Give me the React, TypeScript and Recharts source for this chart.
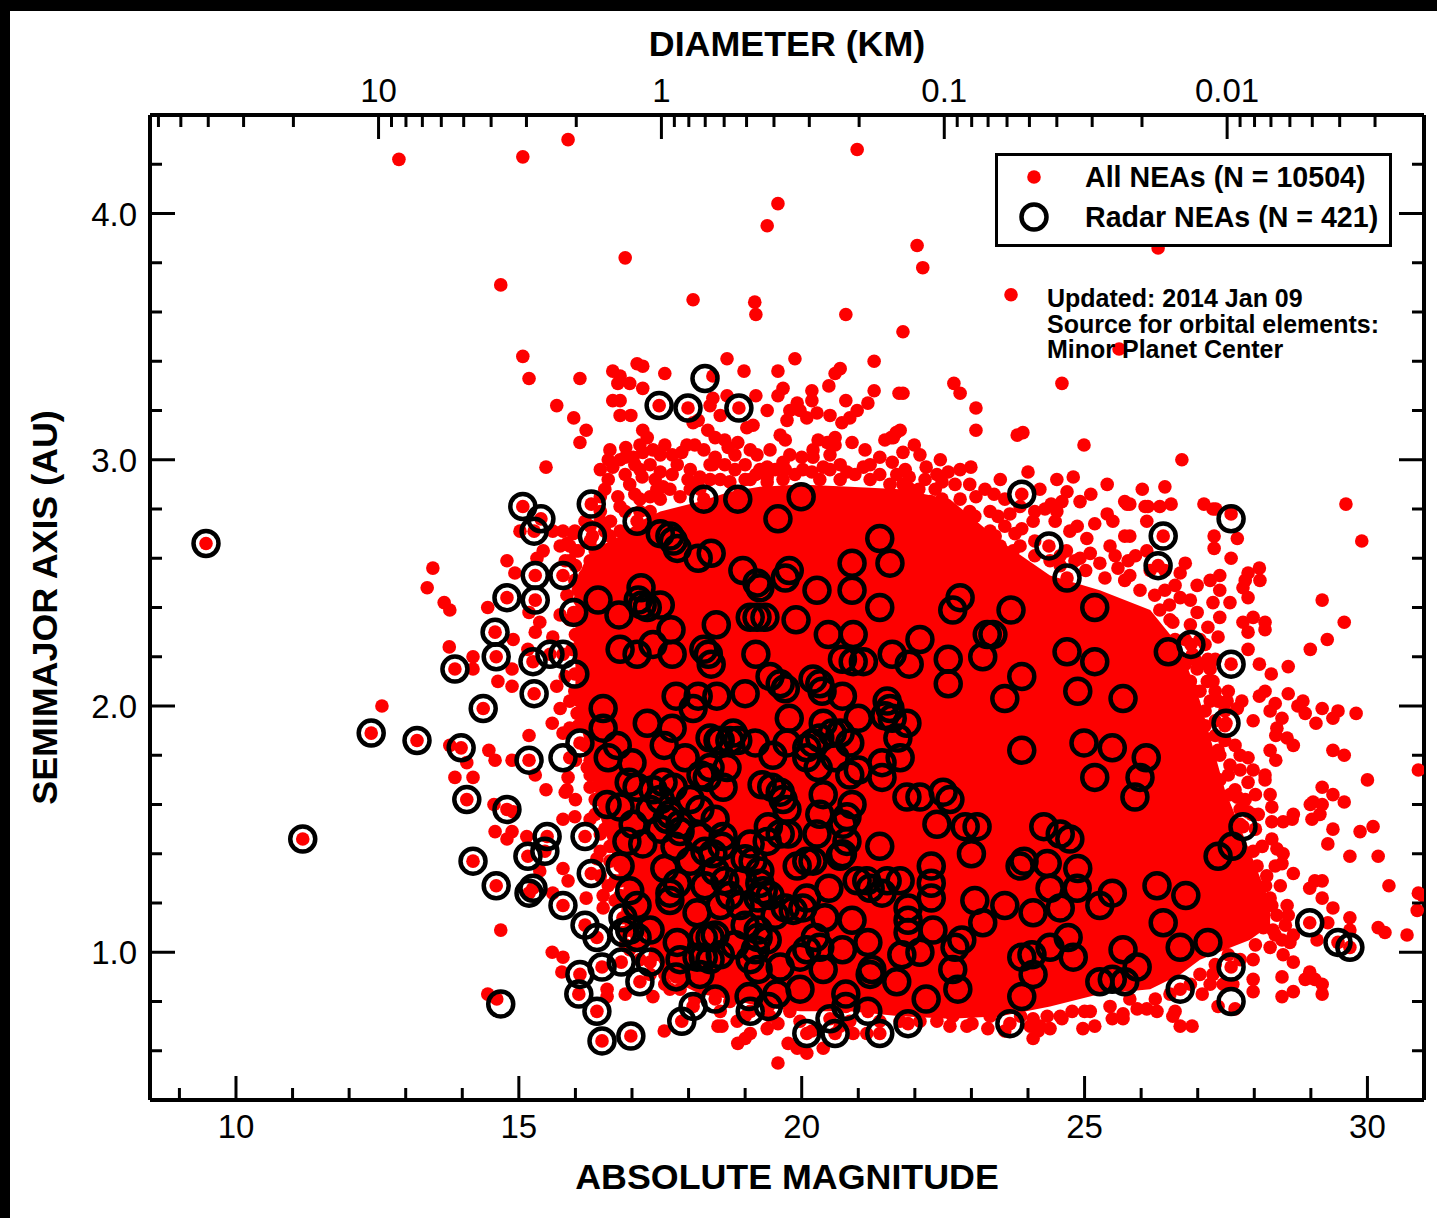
import {
  ComposedChart,
  Area,
  Scatter,
  XAxis,
  YAxis,
  Legend,
} from "recharts";

type Pt = [number, number];

// [absolute magnitude, semimajor axis]
const radarOnDots: Pt[] = [
  [9.47,2.66],[11.18,1.46],[12.39,1.89],[13.2,1.86],[13.98,1.83],[13.87,2.15],[14.37,1.99],[14.08,1.62],[14.19,1.37],[14.6,1.27],
  [14.6,2.2],[14.58,2.3],[14.79,1.58],[14.79,2.44],[15.07,2.81],[15.39,2.76],[15.27,2.71],[15.29,2.53],[15.29,2.43],[15.27,2.05],
  [15.25,2.18],[15.18,1.78],[15.78,2.53],[15.97,2.38],[15.55,2.21],[15.78,2.21],[15.99,2.13],[16.08,1.85],[16.28,2.82],[16.3,2.69],
  [16.4,2.43],[16.49,1.99],[16.49,1.91],[16.74,1.84],[16.58,1.79],[17.0,1.77],[15.5,1.47],[15.46,1.41],[15.16,1.39],[16.17,1.47],
  [16.28,1.32],[16.79,1.35],[15.25,1.26],[15.18,1.24],[15.78,1.19],[16.17,1.11],[16.38,1.06],[16.47,0.94],[16.08,0.91],[16.06,0.83],
  [16.38,0.76],[16.47,0.64],[16.98,0.66],[16.81,0.96],[17.32,0.96],[17.14,0.88],[17.78,0.9],[18.08,0.78],[17.88,0.72],[18.47,0.81],
  [16.96,1.25],[17.09,1.19],[16.84,1.14],[16.56,1.6],[16.79,1.59],[17.02,1.52],[16.91,1.45],[17.19,1.44],[17.58,1.34],[17.67,1.24],
  [17.8,1.28],[18.15,1.16],[16.96,1.09],[16.84,1.08],[17.09,1.06],[17.8,1.04],[18.26,1.06],[18.26,0.98],[18.15,0.98],[17.62,1.54],
  [17.85,1.52],[17.09,2.75],[17.5,2.7],[17.67,2.69],[17.73,2.67],[17.8,2.64],[18.17,2.6],[18.4,2.62],[18.27,2.84],[18.87,2.84],
  [19.99,2.85],[19.58,2.76],[21.38,2.68],[20.89,2.58],[21.56,2.58],[18.96,2.55],[19.21,2.5],[19.26,2.48],[19.78,2.55],[19.71,2.52],
  [20.27,2.47],[20.89,2.47],[21.38,2.4],[17.16,2.48],[17.11,2.43],[17.18,2.41],[17.27,2.4],[17.5,2.41],[16.77,2.37],[17.69,2.31],
  [18.49,2.33],[19.9,2.35],[19.09,2.36],[19.21,2.36],[19.35,2.36],[20.47,2.29],[20.91,2.29],[22.67,2.39],[22.8,2.44],[23.7,2.39],
  [25.18,2.4],[24.37,2.65],[24.69,2.52],[26.3,2.57],[26.39,2.69],[23.89,2.86],[23.28,2.29],[23.38,2.29],[23.2,2.2],[24.69,2.22],
  [25.18,2.18],[26.48,2.22],[26.88,2.25],[27.59,2.17],[23.89,2.12],[23.59,2.03],[24.88,2.06],[25.68,2.03],[27.5,1.93],[23.89,1.82],
  [24.99,1.85],[25.49,1.83],[25.18,1.71],[26.09,1.79],[25.98,1.71],[25.89,1.63],[19.19,2.21],[22.09,2.27],[21.6,2.21],[21.9,2.17],
  [22.59,2.19],[22.59,2.09],[18.35,2.21],[18.4,2.17],[20.72,2.19],[20.91,2.18],[21.09,2.18],[19.44,2.12],[19.62,2.09],[19.71,2.07],
  [20.2,2.11],[20.32,2.09],[20.36,2.06],[20.72,2.04],[21.51,2.02],[21.56,1.99],[21.47,1.96],[21.6,1.95],[21.86,1.93],[18.5,2.04],
  [19.0,2.05],[17.78,2.04],[18.08,1.99],[18.17,2.04],[17.27,1.93],[17.71,1.91],[17.94,1.79],[17.57,1.84],[18.38,1.87],[18.52,1.86],
  [17.71,2.21],[17.37,2.25],[17.09,2.21],[16.79,2.23],[18.27,2.23],[19.78,1.95],[20.38,1.93],[21.0,1.95],[18.56,1.86],[18.73,1.86],
  [18.87,1.86],[18.79,1.89],[19.18,1.85],[19.49,1.8],[19.74,1.85],[20.09,1.83],[20.2,1.85],[20.32,1.87],[20.09,1.79],[20.54,1.89],
  [20.68,1.89],[20.85,1.85],[20.29,1.75],[20.59,1.79],[20.85,1.72],[21.0,1.74],[21.74,1.79],[21.42,1.77],[21.42,1.71],[21.7,1.87],
  [18.68,1.75],[18.61,1.67],[18.38,1.75],[18.33,1.71],[18.22,1.72],[17.55,1.69],[17.73,1.67],[17.09,1.67],[17.37,1.66],[16.95,1.69],
  [19.3,1.68],[19.47,1.67],[19.62,1.65],[19.67,1.62],[19.74,1.58],[20.38,1.64],[20.89,1.6],[20.8,1.55],[20.32,1.56],[20.27,1.48],
  [21.86,1.63],[22.09,1.63],[22.5,1.65],[22.62,1.62],[22.39,1.52],[22.89,1.51],[23.1,1.51],[23.0,1.4],[21.38,1.43],[20.73,1.52],
  [20.8,1.45],[20.72,1.4],[19.41,1.51],[19.39,1.45],[19.62,1.48],[19.76,1.48],[18.61,1.47],[18.59,1.43],[18.43,1.4],[19.09,1.44],
  [19.14,1.37],[20.09,1.37],[20.2,1.37],[19.92,1.35],[20.48,1.26],[20.98,1.29],[21.15,1.29],[21.51,1.29],[21.74,1.29],[22.29,1.35],
  [22.29,1.28],[22.29,1.22],[23.06,1.21],[23.59,1.19],[23.2,1.12],[24.09,1.16],[23.93,1.37],[23.86,1.35],[24.34,1.36],[24.39,1.26],
  [23.89,0.98],[24.07,0.99],[24.09,0.91],[24.39,1.02],[23.89,0.82],[23.68,0.71],[22.76,0.85],[22.67,0.93],[22.71,1.02],[22.83,1.05],
  [22.32,1.09],[21.88,1.18],[21.88,1.13],[21.88,1.08],[21.42,1.24],[21.21,1.26],[20.89,1.13],[21.17,1.04],[20.68,1.39],[20.09,1.22],
  [19.85,1.17],[20.02,1.18],[20.41,1.14],[19.71,1.18],[20.72,1.01],[20.38,0.93],[20.24,1.06],[20.32,1.02],[19.97,0.98],[19.97,0.85],
  [21.77,0.99],[22.09,1.0],[21.68,0.88],[21.24,0.93],[21.21,0.91],[22.2,0.81],[21.88,0.71],[21.38,0.67],[21.17,0.76],[20.78,0.83],
  [20.78,0.78],[20.5,0.73],[20.59,0.67],[20.09,0.67],[19.41,0.78],[19.09,0.76],[19.07,0.82],[19.56,0.83],[19.23,0.93],[19.62,0.94],
  [18.73,1.23],[19.23,1.06],[19.23,1.09],[19.39,1.05],[18.38,1.06],[18.38,0.97],[19.23,1.22],[19.32,1.25],[19.26,1.28],[18.96,1.29],
  [20.09,1.01],[27.8,1.51],[27.61,1.43],[27.36,1.39],[24.28,1.51],[24.57,1.48],[24.74,1.46],[24.88,1.34],[24.87,1.26],[25.49,1.24],
  [25.27,1.19],[24.57,1.18],[26.28,1.27],[26.79,1.23],[26.39,1.12],[27.18,1.04],[26.69,1.02],[27.59,0.94],[26.69,0.85],[28.98,1.12],
  [29.48,1.04],[29.69,1.02],[25.68,1.01],[25.93,0.94],[25.27,0.88],[25.49,0.89],[25.71,0.88],[24.71,1.06],[24.8,0.98],
  [17.5,1.62],[17.67,1.56],[17.85,1.49],[18.2,1.47],[18.29,1.41],[18.03,1.37],[17.5,1.5],[17.32,1.58],[17.76,1.43],[18.03,1.62],
  [18.2,1.58],[18.47,1.54],[18.47,1.33],[18.64,1.29],[18.56,1.19],[18.29,1.27],[18.91,1.19],[19.0,1.11],[18.82,1.03],[18.47,1.07],
  [18.56,0.99],[18.2,0.91],[19.09,0.97],[19.18,1.01],[19.53,1.15],[19.26,1.33],[19.0,1.38],[19.44,1.23],[17.67,1.21],[17.32,1.09],
  [17.85,0.97],[17.48,3.22],[17.99,3.21],[18.89,3.21],
];

// circles whose own dot sits off centre
const radarOffDots: Pt[] = [[18.29,3.33],[27.59,2.76],[27.59,0.8],[14.68,0.79],[15.78,1.79]];

const denseCoreH = [16.0,16.17,16.44,16.79,17.14,17.5,17.85,18.2,18.73,19.26,19.97,20.85,21.74,22.62,23.51,24.39,25.27,26.16,26.69,27.04,27.48,27.92,28.28];
const denseCoreLow = [2.02,1.85,1.55,1.3,1.09,0.95,0.87,0.83,0.81,0.78,0.76,0.76,0.74,0.73,0.74,0.78,0.83,0.85,0.91,0.97,1.01,1.05,1.11];
const denseCoreHigh = [2.5,2.59,2.65,2.69,2.75,2.79,2.81,2.83,2.87,2.89,2.9,2.89,2.88,2.84,2.67,2.53,2.47,2.39,2.24,2.02,1.66,1.41,1.2];

const sparseTop: Pt[] = [
  [12.88,4.22],[15.07,4.23],[15.87,4.3],[20.98,4.26],[19.58,4.04],[19.39,3.95],[22.04,3.87],[22.14,3.78],[16.88,3.82],[14.68,3.71],
  [23.7,3.67],[18.08,3.65],[19.17,3.64],[19.19,3.59],[20.78,3.59],[21.79,3.52],[15.07,3.42],[15.18,3.33],[21.28,3.4],[25.61,3.45],
  [24.6,3.31],[22.69,3.31],[22.8,3.27],[21.79,3.27],[23.08,3.21],[23.08,3.12],[23.81,3.1],[23.91,3.11],[24.99,3.06],[26.72,3.0],
  [16.08,3.33],[15.67,3.22],[15.97,3.17],[16.19,3.12],[16.08,3.07],[15.48,2.97],[26.3,3.86],[18.43,3.34],[27.59,2.78],
];

const fringeTop: Pt[] = [
  [18.68,3.41],[19.88,3.41],[17.58,3.35],[18.98,3.36],[19.58,3.36],[20.68,3.37],[20.59,3.35],[17.09,3.39],[17.19,3.38],[16.66,3.36],
  [16.79,3.34],[16.96,3.31],[16.75,3.31],[17.19,3.29],[20.48,3.3],[19.67,3.29],[19.58,3.26],[20.18,3.28],[20.18,3.24],[21.28,3.28],
  [21.72,3.27],[19.19,3.26],[20.78,3.24],[21.17,3.23],[16.66,3.24],[16.79,3.24],[19.92,3.23],[19.79,3.2],[19.97,3.2],[19.39,3.2],
  [20.27,3.19],[20.5,3.18],[20.98,3.2],[20.85,3.17],[20.71,3.15],[20.09,3.17],[19.74,3.16],[16.79,3.18],[16.98,3.18],[18.08,3.15],
  [18.17,3.16],[19.14,3.14],[19.03,3.13],[18.43,3.25],[18.56,3.18],[18.38,3.22],[18.68,3.26],[17.19,3.12],[17.27,3.09],[18.34,3.12],
  [18.47,3.09],[19.62,3.1],[19.71,3.08],[21.62,3.09],[21.74,3.12],[20.59,3.09],[20.59,3.06],[20.29,3.08],[20.45,3.07],[20.89,3.07],
  [20.2,3.04],[18.87,3.07],[16.89,3.05],[17.58,3.06],[17.97,3.06],[17.88,3.03],[17.71,3.02],[17.37,3.04],[17.19,3.03],[17.02,3.01],
  [16.88,3.01],[18.27,3.04],[18.7,3.05],[18.82,3.02],[19.09,3.04],[19.21,3.02],[17.8,2.98],[17.5,2.95],[16.58,3.0],[18.43,2.98],
  [18.47,3.01],[20.0,3.01],[20.2,3.01],[21.38,3.01],[21.6,2.99],[19.67,2.99],[19.39,2.97],[20.38,2.97],[20.18,2.95],[19.88,2.94],
  [19.19,2.94],[19.39,2.93],[20.8,2.95],[20.94,2.94],[21.09,2.97],[21.68,2.94],[16.66,2.97],[16.88,2.94],[17.18,2.93],[16.58,2.92],
  [18.82,2.96],[18.56,2.92],[17.99,2.92],[18.17,2.91],[17.55,2.89],[17.44,2.88],[16.96,2.9],[16.75,2.85],[19.39,2.91],[19.67,2.92],
  [17.14,2.84],[16.44,2.79],[16.62,2.75],[16.88,2.79],[16.17,2.75],[15.99,2.71],[15.73,2.65],[15.9,2.65],[16.26,2.59],[16.52,2.71],
  [16.79,2.71],[17.32,2.79],[17.85,2.85],[18.2,2.88],[18.73,2.91],[19.09,2.92],[20.68,2.92],[21.21,2.92],[21.56,2.9],[21.92,2.88],
  [21.99,3.06],[21.67,3.11],[21.58,3.09],[21.79,3.03],[22.99,2.97],[22.2,2.97],[22.59,2.95],[22.39,2.94],[22.48,2.91],[21.9,2.93],
  [21.79,2.9],[22.07,2.88],[24.0,2.95],[24.51,2.92],[24.8,2.93],[25.4,2.9],[26.02,2.88],[26.42,2.89],[29.62,2.82],[27.11,2.82],
  [27.32,2.8],[25.71,2.83],[25.8,2.82],[26.12,2.81],[26.33,2.81],[26.53,2.82],[25.4,2.78],[25.11,2.86],[24.92,2.83],[24.69,2.87],
  [24.6,2.83],[24.41,2.82],[23.4,2.86],[23.08,2.85],[22.8,2.84],[22.48,2.84],[22.27,2.83],[25.5,2.75],[25.18,2.74],[24.87,2.73],
  [24.74,2.71],[24.09,2.75],[23.89,2.72],[23.77,2.7],[23.47,2.77],[23.33,2.71],[23.42,2.69],[23.24,2.64],[23.29,2.62],[24.48,2.75],
  [24.3,2.8],[24.51,2.79],[25.1,2.62],[24.92,2.6],[25.27,2.58],[25.04,2.68],[25.71,2.69],[25.8,2.69],[26.1,2.75],[25.75,2.82],
  [26.07,2.81],[26.1,2.63],[25.77,2.59],[25.59,2.56],[26.78,2.58],[26.69,2.54],[23.74,2.63],[23.51,2.59],[24.39,2.59],[24.68,2.63],
  [23.68,2.78],[26.69,2.44],[26.56,2.34],[22.97,2.79],[22.8,2.75],[23.07,2.71],[24.12,2.67],[25.45,2.65],[26.42,2.47],
  [17.05,2.86],[17.32,2.85],[17.67,2.88],[18.03,2.96],[18.2,2.93],[18.38,2.92],[19.0,2.98],[18.91,2.87],[19.26,2.96],[19.53,2.96],
  [19.71,2.96],[20.02,2.96],[20.32,2.92],[20.5,2.96],[20.68,2.98],[21.21,2.98],[21.38,2.94],[21.83,2.96],[22.18,2.92],[22.36,2.88],
  [22.71,2.9],[22.97,2.9],[23.24,2.88],[23.59,2.84],[23.86,2.81],[24.12,2.79],[23.06,2.77],[23.33,2.79],[23.59,2.73],[23.51,2.65],
  [23.86,2.65],[24.12,2.61],[16.79,3.0],[16.44,2.85],[17.32,2.98],[17.14,2.96],[16.44,2.75],[16.26,2.67],
  [16.61,3.04],[16.44,2.96],[17.05,2.98],[17.41,2.92],[17.71,2.94],[18.03,2.88],[18.38,2.98],[18.64,2.98],[19.0,2.92],[16.52,2.88],
  [16.79,2.81],[17.14,2.79],[17.5,2.84],[16.26,2.73],[16.61,2.69],[16.0,2.63],[16.35,2.63],[17.14,3.06],[17.5,3.02],[18.11,3.06],
  [18.64,3.08],[19.44,3.04],[19.79,3.02],[20.5,3.02],[21.12,3.04],[21.47,3.08],[22.09,3.02],[22.45,3.0],[22.8,2.96],[23.51,2.92],
  [24.21,2.88],[24.57,2.57],[25.02,2.55],[25.36,2.52],[25.71,2.51],[25.98,2.47],[26.24,2.45],[26.51,2.35],[26.33,2.39],[26.6,2.27],
];

const fringeRight: Pt[] = [
  [26.91,2.21],[27.18,2.19],[27.17,2.1],[27.54,2.06],[27.52,2.02],[26.99,2.15],[29.9,2.67],[27.27,2.8],[27.7,2.68],[27.29,2.69],
  [27.29,2.64],[27.59,2.6],[28.09,2.56],[27.89,2.54],[28.1,2.51],[27.84,2.51],[27.8,2.48],[27.89,2.44],[27.57,2.42],[27.27,2.42],
  [27.22,2.51],[27.39,2.53],[27.39,2.47],[26.99,2.49],[29.2,2.43],[29.59,2.34],[29.29,2.27],[28.99,2.23],[27.98,2.36],[27.8,2.34],
  [28.19,2.34],[28.19,2.31],[27.89,2.3],[27.39,2.36],[26.99,2.38],[27.18,2.32],[27.36,2.28],[27.89,2.23],[28.09,2.17],[28.3,2.13],
  [28.6,2.16],[28.19,2.06],[28.09,2.04],[28.6,2.05],[27.78,2.02],[27.7,1.99],[28.37,2.01],[28.28,1.98],[28.86,2.02],[28.77,2.0],
  [28.9,1.97],[29.2,1.99],[29.48,1.98],[29.39,1.95],[29.8,1.97],[29.09,1.93],[27.98,1.94],[28.49,1.95],[28.4,1.91],[28.38,1.88],
  [28.58,1.87],[28.69,1.84],[28.28,1.82],[28.38,1.78],[27.89,1.79],[29.39,1.82],[29.59,1.8],[30.9,1.74],[27.98,1.74],[28.19,1.72],
  [28.19,1.7],[27.89,1.69],[30.0,1.7],[29.2,1.67],[29.39,1.64],[28.28,1.64],[29.59,1.61],[29.04,1.61],[29.2,1.6],[28.99,1.6],
  [28.31,1.59],[27.57,1.64],[27.7,1.63],[28.07,1.56],[27.89,1.57],[28.69,1.56],[28.67,1.54],[29.02,1.54],[29.16,1.56],[28.51,1.53],
  [28.31,1.53],[29.39,1.5],[29.87,1.49],[30.1,1.51],[29.3,1.44],[28.31,1.46],[28.4,1.42],[28.51,1.4],[28.49,1.36],[28.69,1.32],
  [27.98,1.41],[28.05,1.35],[28.22,1.31],[29.69,1.39],[30.19,1.39],[30.38,1.27],[30.9,1.24],[30.98,1.23],[30.88,1.17],[29.2,1.29],
  [29.07,1.29],[28.98,1.26],[29.2,1.22],[29.39,1.18],[28.28,1.22],[28.31,1.19],[28.58,1.19],[28.6,1.15],[29.69,1.14],[29.69,1.09],
  [29.3,1.12],[30.19,1.1],[30.31,1.08],[30.7,1.07],[28.69,1.07],[28.63,1.04],[29.11,1.05],[28.69,0.96],[28.98,0.92],[28.9,0.89],
  [29.07,0.89],[29.2,0.87],[29.2,0.83],[28.49,0.9],[28.69,0.84],[28.49,0.82],[27.98,0.89],[27.98,0.84],[27.08,0.83],[27.66,0.77],
  [27.36,0.78],[28.33,1.09],[28.16,1.1],[28.49,1.05],[28.51,0.99],[27.98,0.97],[28.28,1.02],[27.62,0.87],[27.45,0.87],[27.27,0.91],
  [27.22,2.02],[27.31,1.94],[27.48,1.86],[27.57,1.76],[27.39,1.7],[27.75,1.58],[27.04,2.27],[27.31,2.19],[26.95,2.06],
  [24.57,2.61],[24.83,2.59],[25.54,2.61],[25.8,2.53],[26.16,2.55],[26.42,2.55],[25.9,2.61],[26.6,2.49],[26.87,2.43],[26.5,2.41],
  [26.87,2.33],[26.78,2.27],[27.13,2.25],[27.04,2.17],[26.87,2.1],[27.27,2.1],[27.13,1.98],[27.36,2.02],[27.31,1.88],[27.48,1.98],
  [27.66,1.84],[27.39,1.8],[27.75,1.74],[27.43,1.62],[27.84,1.62],[28.02,1.64],[28.02,1.5],[27.75,1.41],[28.14,1.43],[28.37,1.35],
  [27.89,1.29],[28.46,1.27],[28.2,1.27],[28.55,1.11],[28.4,1.15],[28.37,1.07],[28.02,1.03],[27.75,0.97],[27.54,0.99],[27.31,0.95],
  [27.04,0.91],[26.87,0.87],[27.22,0.87],[26.51,0.83],[26.25,0.81],[25.8,0.81],[25.45,0.78],[25.0,0.76],[24.57,0.74],[24.04,0.7],
  [26.95,2.19],[26.78,2.17],[27.22,2.15],[27.04,2.06],[27.31,2.06],[27.13,1.92],[27.48,1.92],[27.36,1.82],[27.75,1.8],[27.54,1.72],
  [27.66,1.66],[27.75,1.52],[27.96,1.56],[27.84,1.35],[28.14,1.19],
];

const fringeBottom: Pt[] = [
  [26.6,0.76],[26.56,0.74],[26.69,0.7],[26.9,0.7],[26.28,0.76],[26.1,0.77],[25.93,0.77],[25.68,0.75],[25.68,0.73],[25.49,0.73],
  [25.18,0.7],[24.97,0.69],[25.1,0.76],[24.78,0.76],[24.6,0.73],[24.39,0.69],[24.21,0.7],[24.09,0.65],[24.09,0.73],[19.58,0.55],
  [18.59,0.7],[18.87,0.63],[19.0,0.65],[19.09,0.67],[19.39,0.69],[19.58,0.71],[18.86,0.72],[19.76,0.63],[19.92,0.61],[20.09,0.59],
  [20.38,0.61],[20.18,0.68],[20.91,0.67],[21.15,0.67],[22.92,0.7],[23.01,0.71],[23.29,0.69],[24.18,0.68],[24.34,0.74],[22.39,0.72],
  [22.67,0.74],[18.86,0.88],[18.43,0.89],[18.73,0.8],[18.56,0.76],[19.79,0.76],[20.85,0.72],[21.74,0.72],[23.33,0.74],[23.87,0.74],
  [23.59,0.68],[22.62,0.7],[22.09,0.72],[21.38,0.72],[20.68,0.7],[19.97,0.72],[19.44,0.74],[19.0,0.74],
];

const fringeLeft: Pt[] = [
  [15.48,1.66],[15.82,1.65],[14.58,1.49],[14.88,1.49],[14.79,1.46],[15.78,1.54],[15.99,1.55],[14.56,1.6],[14.9,1.57],[15.14,1.47],
  [16.44,1.41],[16.38,1.38],[15.78,1.34],[15.87,1.29],[15.37,1.33],[16.58,1.27],[16.49,1.23],[16.49,1.18],[16.19,1.22],[15.6,1.24],
  [14.68,1.09],[15.59,1.0],[15.78,0.98],[15.76,0.92],[14.45,0.83],[14.61,0.81],[16.56,0.85],[16.56,0.82],[16.88,0.83],[17.37,0.82],
  [17.67,0.85],[17.57,0.68],[18.52,0.7],[13.48,2.56],[13.38,2.48],[13.68,2.42],[13.78,2.39],[14.45,2.4],[13.77,2.24],[14.19,2.2],
  [14.19,2.15],[14.79,2.59],[14.93,2.54],[14.9,2.27],[14.88,2.15],[14.63,2.1],[14.88,2.08],[15.37,2.34],[15.29,2.3],[15.6,2.28],
  [15.18,2.38],[15.16,2.23],[15.43,2.63],[15.32,2.6],[15.02,2.71],[15.6,2.71],[15.85,2.66],[15.96,2.7],[15.78,2.71],[15.85,2.45],
  [15.67,2.08],[15.73,1.99],[15.59,1.93],[15.18,1.88],[14.47,1.82],[14.58,1.78],[14.88,1.78],[14.08,1.77],[13.78,1.84],[13.87,1.71],
  [14.19,1.71],[12.58,2.0],[15.87,1.71],[15.85,1.66],[15.29,1.72],[15.78,1.89],[15.9,1.91],[16.21,1.75],[16.26,1.67],[16.31,2.24],
  [16.08,2.02],[16.03,1.97],[16.44,2.08],[15.9,2.59],[15.99,2.51],[16.17,2.43],[15.9,2.35],[16.08,2.27],[15.99,2.06],[16.17,1.94],
  [16.26,1.86],[16.44,1.74],[16.35,1.62],[16.61,1.58],[16.52,1.5],[16.79,1.29],[16.7,1.21],[16.96,1.13],[16.88,1.03],[17.14,0.97],
  [17.32,0.91],[17.58,0.87],[15.73,2.37],[16.08,2.19],[15.9,1.79],
  [16.05,2.63],[16.0,2.57],[16.17,2.53],[16.05,2.47],[16.24,2.37],[16.0,2.29],[16.26,2.33],[16.13,2.21],[15.94,2.23],[16.26,2.15],
  [16.08,2.06],[15.9,2.02],[16.26,2.0],[16.05,1.92],[16.26,1.78],[16.44,1.68],[16.52,1.62],[16.61,1.43],[16.35,1.56],[16.79,1.23],
  [16.93,1.17],[17.14,1.03],[17.41,0.99],[17.58,0.91],[17.85,0.85],[18.11,0.81],
  [15.82,2.59],[16.08,2.43],[16.26,2.27],[15.82,2.12],[16.17,1.84],[16.0,1.78],[16.26,1.72],[16.0,1.62],[16.26,1.54],[16.44,1.48],
  [16.61,1.37],[16.7,1.29],[16.44,1.31],[16.96,1.01],
];

const magnitudeTicks = [9,10,11,12,13,14,15,16,17,18,19,20,21,22,23,24,25,26,27,28,29,30];
const magnitudeLabels = [10,15,20,25,30];
const axisTicks = [0.6,0.8,1.0,1.2,1.4,1.6,1.8,2.0,2.2,2.4,2.6,2.8,3.0,3.2,3.4,3.6,3.8,4.0,4.2];
const axisLabels = [1,2,3,4];
const diameterTicks = [
  60,50,40,30,20,10,9,8,7,6,5,4,3,2,1,0.9,0.8,0.7,0.6,0.5,0.4,0.3,0.2,0.1,
  0.09,0.08,0.07,0.06,0.05,0.04,0.03,0.02,0.01,0.009,0.008,0.007,0.006,0.005,0.004,0.003,
];
const diameterLabels = [10,1,0.1,0.01];

// magnitude that lines up with a given diameter on the top axis
const magOfDiameter = (d: number) => 17.52 - 5 * Math.log10(d);
const near = (list: number[], v: number) => list.some((l) => Math.abs(l - v) < 1e-6);

const toPoints = (list: Pt[]) => list.map(([h, a]) => ({ h, a }));
const allDots = toPoints([...sparseTop, ...fringeTop, ...fringeRight, ...fringeBottom, ...fringeLeft, ...radarOnDots]);
const radarPoints = toPoints([...radarOnDots, ...radarOffDots]);
const denseCore = denseCoreH.map((h, i) => ({ h, band: [denseCoreLow[i], denseCoreHigh[i]] }));

const FONT = '"Liberation Sans", Arial, sans-serif';
const RED = "#fd0000";

const RedDot = (p: any) => <circle cx={p.cx} cy={p.cy} r={6.8} fill={RED} />;
const RadarRing = (p: any) => (
  <circle cx={p.cx} cy={p.cy} r={12.5} fill="none" stroke="#000" strokeWidth={4.5} />
);

const BottomTick = (p: any) => {
  const major = near(magnitudeLabels, p.payload.value);
  return (
    <g>
      <line x1={p.x} x2={p.x} y1={p.y} y2={p.y - (major ? 24 : 12)} stroke="#000" strokeWidth={3} />
      {major && (
        <text x={p.x} y={p.y + 38} textAnchor="middle" fontSize={33} fontFamily={FONT} fill="#000">
          {p.payload.value}
        </text>
      )}
    </g>
  );
};

const TopTick = (p: any) => {
  const d = diameterTicks.find((t) => Math.abs(magOfDiameter(t) - p.payload.value) < 1e-6) ?? 0;
  const major = near(diameterLabels, d);
  return (
    <g>
      <line x1={p.x} x2={p.x} y1={p.y} y2={p.y + (major ? 24 : 12)} stroke="#000" strokeWidth={3} />
      {major && (
        <text x={p.x} y={p.y - 13} textAnchor="middle" fontSize={33} fontFamily={FONT} fill="#000">
          {d}
        </text>
      )}
    </g>
  );
};

const LeftTick = (p: any) => {
  const major = near(axisLabels, p.payload.value);
  return (
    <g>
      <line x1={p.x} x2={p.x + (major ? 25 : 12)} y1={p.y} y2={p.y} stroke="#000" strokeWidth={3} />
      {major && (
        <text x={p.x - 13} y={p.y + 12} textAnchor="end" fontSize={33} fontFamily={FONT} fill="#000">
          {p.payload.value.toFixed(1)}
        </text>
      )}
    </g>
  );
};

const RightTick = (p: any) => {
  const major = near(axisLabels, p.payload.value);
  return <line x1={p.x} x2={p.x - (major ? 25 : 12)} y1={p.y} y2={p.y} stroke="#000" strokeWidth={3} />;
};

const legendRows = [
  { label: "All NEAs (N = 10504)", ring: false },
  { label: "Radar NEAs (N = 421)", ring: true },
];

const LegendBox = () => (
  <div
    style={{
      boxSizing: "border-box",
      width: 397,
      height: 94,
      border: "3.5px solid #000",
      background: "#fff",
      fontFamily: FONT,
      fontWeight: 700,
      fontSize: 28.6,
      color: "#000",
      paddingTop: 1,
    }}
  >
    {legendRows.map((row) => (
      <div key={row.label} style={{ display: "flex", alignItems: "center", height: 40 }}>
        <svg width={87} height={40} style={{ flex: "none" }}>
          {row.ring ? (
            <circle cx={36} cy={20} r={12.5} fill="none" stroke="#000" strokeWidth={4.5} />
          ) : (
            <circle cx={36} cy={20} r={6.8} fill={RED} />
          )}
        </svg>
        <span style={{ whiteSpace: "nowrap" }}>{row.label}</span>
      </div>
    ))}
  </div>
);

export default function App() {
  return (
    <div style={{ position: "absolute", left: 0, top: 0, width: 1437, height: 1218, background: "#000", overflow: "hidden" }}>
      <div style={{ position: "absolute", left: 10, top: 11, right: 0, bottom: 0, background: "#fff" }} />
      <ComposedChart
        width={1437}
        height={1218}
        data={denseCore}
        margin={{ top: 55, right: 12, bottom: 58, left: 30 }}
        style={{ position: "absolute", left: 0, top: 0 }}
      >
        <XAxis
          xAxisId="mag"
          dataKey="h"
          type="number"
          orientation="bottom"
          domain={[8.48, 31]}
          allowDataOverflow
          ticks={magnitudeTicks}
          interval={0}
          height={60}
          tickSize={0}
          tickMargin={0}
          tickLine={false}
          tick={BottomTick}
          axisLine={{ stroke: "#000", strokeWidth: 4 }}
          label={{
            value: "ABSOLUTE MAGNITUDE",
            position: "bottom",
            offset: 4,
            style: { fontFamily: FONT, fontWeight: 700, fontSize: 35.8, fill: "#000" },
          }}
        />
        <XAxis
          xAxisId="diam"
          dataKey="h"
          type="number"
          orientation="top"
          domain={[8.48, 31]}
          allowDataOverflow
          ticks={diameterTicks.map(magOfDiameter)}
          interval={0}
          height={60}
          tickSize={0}
          tickMargin={0}
          tickLine={false}
          tick={TopTick}
          axisLine={{ stroke: "#000", strokeWidth: 4 }}
          label={{
            value: "DIAMETER (KM)",
            position: "top",
            offset: -1,
            style: { fontFamily: FONT, fontWeight: 700, fontSize: 35.8, fill: "#000" },
          }}
        />
        <YAxis
          yAxisId="sma"
          dataKey="a"
          type="number"
          orientation="left"
          domain={[0.4, 4.4]}
          allowDataOverflow
          ticks={axisTicks}
          interval={0}
          width={120}
          tickSize={0}
          tickMargin={0}
          tickLine={false}
          tick={LeftTick}
          axisLine={{ stroke: "#000", strokeWidth: 4 }}
          label={{
            value: "SEMIMAJOR AXIS (AU)",
            position: "insideLeft",
            angle: -90,
            offset: 14,
            style: { fontFamily: FONT, fontWeight: 700, fontSize: 35.8, fill: "#000", textAnchor: "middle" },
          }}
        />
        <YAxis
          yAxisId="smaRight"
          dataKey="a"
          type="number"
          orientation="right"
          domain={[0.4, 4.4]}
          allowDataOverflow
          ticks={axisTicks}
          interval={0}
          width={1}
          tickSize={0}
          tickMargin={0}
          tickLine={false}
          tick={RightTick}
          axisLine={{ stroke: "#000", strokeWidth: 4 }}
        />
        <Area
          xAxisId="mag"
          yAxisId="sma"
          dataKey="band"
          type="linear"
          stroke="none"
          fill={RED}
          fillOpacity={1}
          dot={false}
          activeDot={false}
          isAnimationActive={false}
          legendType="none"
        />
        <Scatter
          xAxisId="mag"
          yAxisId="sma"
          name="All NEAs"
          data={allDots}
          shape={RedDot}
          isAnimationActive={false}
        />
        <Scatter
          xAxisId="mag"
          yAxisId="sma"
          name="Radar NEAs"
          data={radarPoints}
          shape={RadarRing}
          isAnimationActive={false}
        />
        <Legend
          layout="vertical"
          align="center"
          verticalAlign="middle"
          content={LegendBox}
          wrapperStyle={{ position: "absolute", left: 995, top: 153, width: 397, height: 94 }}
        />
      </ComposedChart>
      <div
        style={{
          position: "absolute",
          left: 1047,
          top: 286,
          fontFamily: FONT,
          fontWeight: 700,
          fontSize: 25,
          lineHeight: "25.5px",
          color: "#000",
          whiteSpace: "nowrap",
        }}
      >
        <div>Updated: 2014 Jan 09</div>
        <div>Source for orbital elements:</div>
        <div>Minor Planet Center</div>
      </div>
    </div>
  );
}
